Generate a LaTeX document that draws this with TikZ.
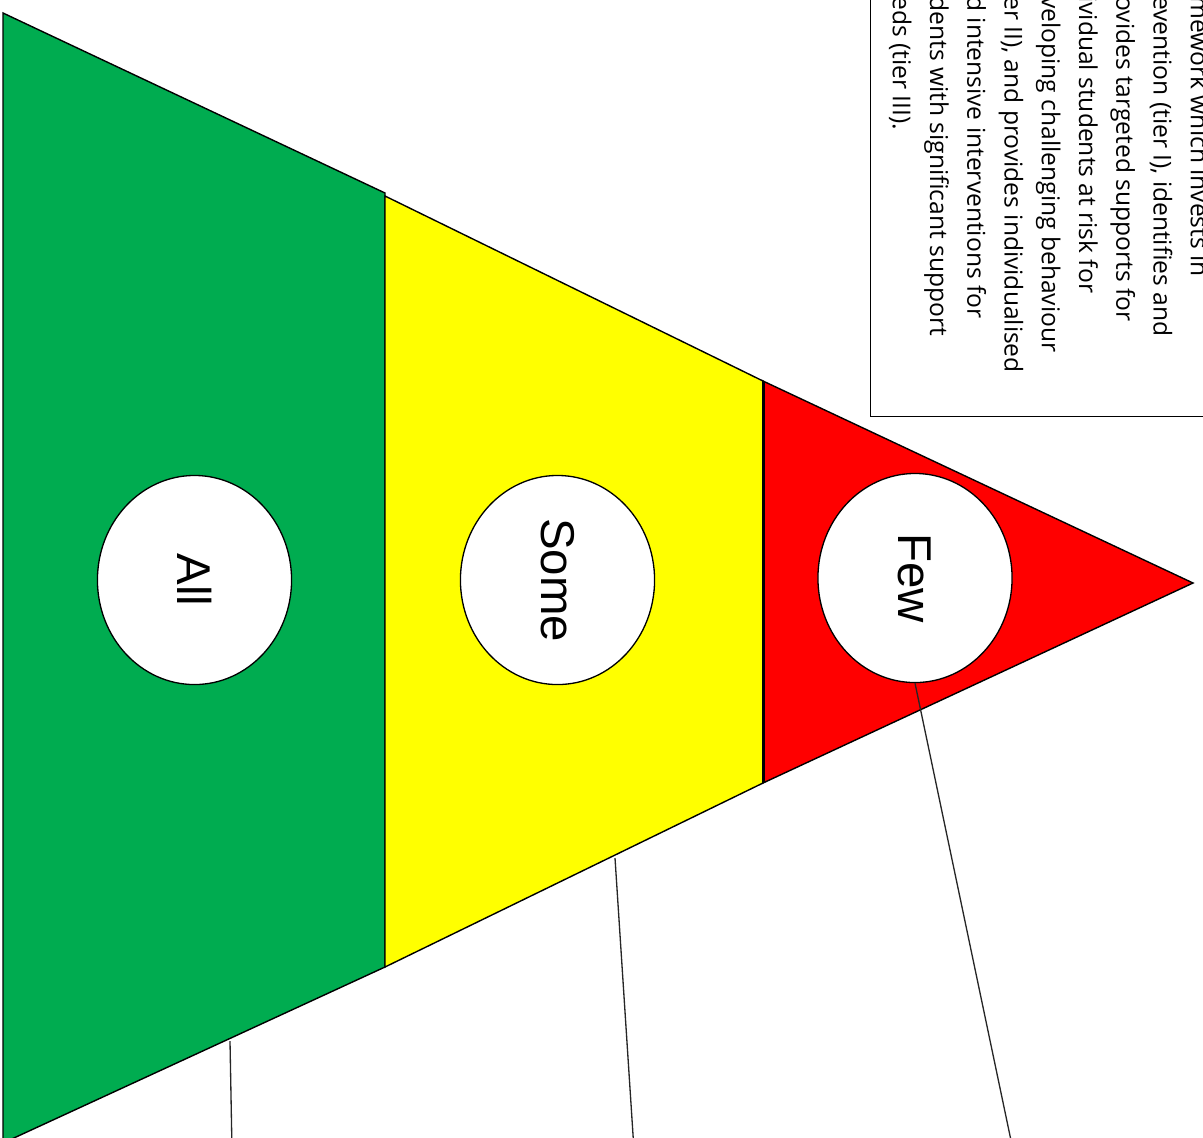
\documentclass[tikz,border=0pt]{standalone}
\usepackage{fontspec}
\usepackage{tikz}
\usetikzlibrary{shapes.geometric}
\newfontfamily\tierfont{Liberation Sans}
\newfontfamily\descfont{Open Sans}
\definecolor{tiergreen}{RGB}{0,172,80}
\definecolor{tieryellow}{RGB}{255,255,0}
\definecolor{tierred}{RGB}{255,0,0}

\begin{document}
\begin{tikzpicture}[
  x=0.02cm, y=-0.02cm,
  piece/.style    = {draw=black, line width=0.8pt, line join=miter},
  tier/.style     = {ellipse, draw=black, line width=0.75pt, fill=white,
                     minimum width=110.5pt, minimum height=119pt, inner sep=0pt,
                     font=\tierfont\fontsize{27}{32}\selectfont},
  descbox/.style  = {draw=black, line width=0.7pt, fill=white,
                     minimum width=230pt, minimum height=280pt, inner sep=0pt},
  desctext/.style = {rotate=-90, align=left, inner sep=0pt,
                     font=\descfont\fontsize{14}{21.2}\selectfont},
  lead/.style     = {draw=black!85, line width=0.75pt}
]
\useasboundingbox (0,0) rectangle (1203,1137);
\clip (0,0) rectangle (1203,1137);

%%%%%%%%%%%%%%%%%%%%%%% PYRAMID ON ITS SIDE %%%%%%%%%%%%%%%%%%%%%%%%%%%%%%%%%%
\draw[piece, fill=tiergreen]  (3,13) -- (385,193) -- (385,967) -- (3,1143) -- cycle;
\draw[piece, fill=tieryellow] (385,196) -- (763,381) -- (763,783) -- (385,967) -- cycle;
\draw[piece, fill=tierred]    (763,381) -- (1193,583) -- (763,783) -- cycle;
\draw[line width=1.7pt] (763,381) -- (763,783);

\node[tier] (all)  at (194.5,580) {\rotatebox{-90}{All}};
\node[tier] (some) at (557.5,580) {\rotatebox{-90}{Some}};
\node[tier] (few)  at (915,578)   {\rotatebox{-90}{Few}};

%%%%%%%%%%%%%%%%%%%%%%% DESCRIPTION BOX %%%%%%%%%%%%%%%%%%%%%%%%%%%%%%%%%%%%%%
\node[descbox, anchor=south west] (box) at (870,417) {};
\node[desctext, anchor=north west] (desc) at (1210,-4)
      {mework which invests in\\
       evention (tier I), identifies and\\
       ovides targeted supports for\\
       ividual students at risk for\\
       veloping challenging behaviour\\
       er II), and provides individualised\\
       d intensive interventions for\\
       dents with significant support\\
       eds (tier III).};

%%%%%%%%%%%%%%%%%%%%%%% LEADER LINES %%%%%%%%%%%%%%%%%%%%%%%%%%%%%%%%%%%%%%%%%
\coordinate (allfoot)  at (230,1041);
\coordinate (allend)   at (232,1150);
\coordinate (somefoot) at (615,858);
\coordinate (someend)  at (634,1150);
\coordinate (fewend)   at (1013,1150);
\draw[lead] (allfoot)   -- (allend);
\draw[lead] (somefoot)  -- (someend);
\draw[lead] (few.south) -- (fewend);

\end{tikzpicture}
\end{document}
